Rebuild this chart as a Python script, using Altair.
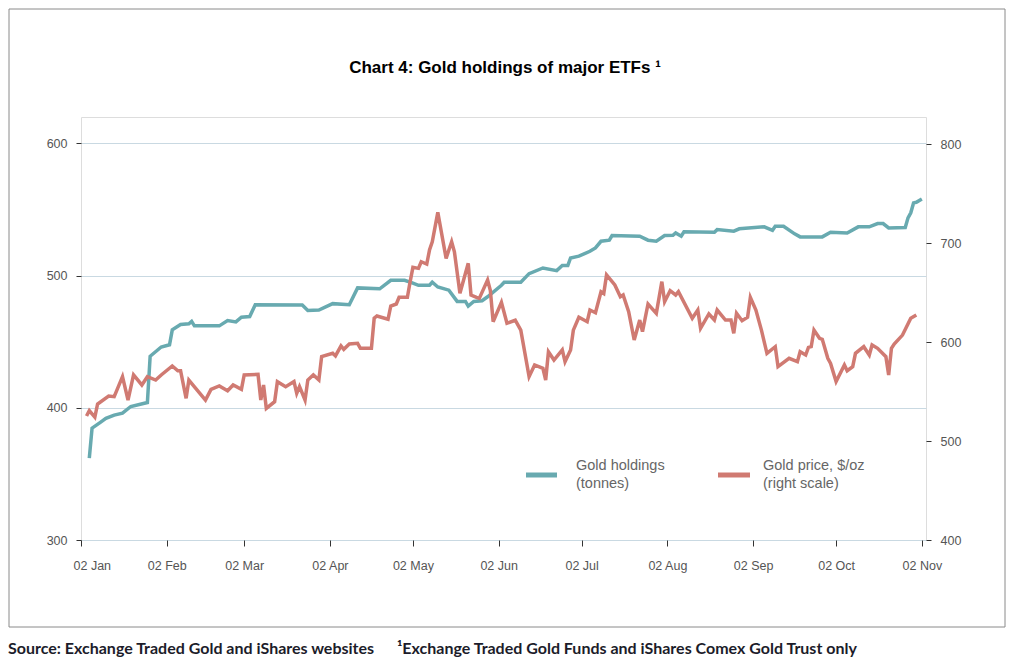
import altair as alt
import pandas as pd

# ---- Data (2006) ----
hold_dates = ["01-05", "01-06", "01-09", "01-11", "01-14", "01-17", "01-20", "01-26", "01-27", "01-31",
              "02-03", "02-04", "02-07", "02-10", "02-11", "02-12", "02-21", "02-24", "02-27", "03-01",
              "03-04", "03-06", "03-23", "03-25", "03-29", "04-03", "04-09", "04-12", "04-20", "04-24",
              "04-29", "05-02", "05-04", "05-08", "05-09", "05-11", "05-15", "05-18", "05-21", "05-22",
              "05-24", "05-27", "05-29", "06-03", "06-04", "06-10", "06-13", "06-18", "06-23", "06-25",
              "06-27", "06-28", "07-01", "07-05", "07-07", "07-09", "07-12", "07-13", "07-23", "07-26",
              "07-29", "08-01", "08-04", "08-05", "08-07", "08-08", "08-19", "08-20", "08-26", "08-28",
              "09-06", "09-09", "09-10", "09-13", "09-17", "09-19", "09-27", "09-30", "10-06", "10-10",
              "10-14", "10-17", "10-19", "10-21", "10-27", "10-28", "10-29", "10-30", "10-31", "11-02"]
hold_vals = [362, 384.6, 389, 392, 394.5, 396, 401, 404, 439, 446,
             447.7, 459, 463, 463.6, 465.4, 462, 462, 466, 465, 468.6,
             469, 478, 477.8, 473.7, 474, 478.8, 478, 490.7, 490, 496.5,
             496.5, 494.4, 492.7, 492.7, 495, 491.4, 489, 480.5, 480.5, 477,
             480.5, 481, 484, 492.7, 495, 495, 501.5, 505.8, 503.8, 507.6,
             507.6, 513.4, 514.7, 518.4, 521, 526, 526.8, 530.3, 529.8, 526.8,
             526, 530.3, 530.5, 532.3, 529.8, 533.1, 532.8, 534.8, 533.6, 535.4,
             536.9, 534.3, 537.4, 537.4, 531.6, 529.3, 529.3, 532.8, 532.3, 536.9,
             536.9, 539.4, 539.4, 536.1, 536.4, 543.7, 547.5, 555, 555.5, 558]

price_dates = ["01-04", "01-05", "01-07", "01-08", "01-12", "01-14", "01-17", "01-19", "01-21", "01-24",
               "01-26", "01-29", "01-31", "02-04", "02-06", "02-07", "02-09", "02-10", "02-13", "02-16",
               "02-18", "02-21", "02-24", "02-26", "03-01", "03-02", "03-07", "03-08", "03-09", "03-10",
               "03-13", "03-14", "03-17", "03-20", "03-21", "03-22", "03-24", "03-25", "03-27", "03-29",
               "03-30", "04-03", "04-04", "04-06", "04-07", "04-09", "04-12", "04-13", "04-17", "04-18",
               "04-19", "04-23", "04-24", "04-26", "04-27", "04-30", "05-01", "05-02", "05-04", "05-05",
               "05-07", "05-08", "05-09", "05-11", "05-14", "05-16", "05-17", "05-19", "05-22", "05-23",
               "05-25", "05-26", "05-29", "05-30", "05-31", "06-03", "06-05", "06-08", "06-10", "06-13",
               "06-15", "06-18", "06-19", "06-20", "06-22", "06-25", "06-26", "06-28", "06-29", "07-01",
               "07-04", "07-05", "07-07", "07-09", "07-10", "07-11", "07-14", "07-16", "07-17", "07-19",
               "07-21", "07-23", "07-24", "07-26", "07-29", "07-31", "08-01", "08-03", "08-05", "08-06",
               "08-11", "08-13", "08-14", "08-17", "08-19", "08-20", "08-23", "08-25", "08-26", "08-27",
               "08-29", "08-31", "09-01", "09-03", "09-05", "09-07", "09-10", "09-11", "09-15", "09-18",
               "09-19", "09-21", "09-22", "09-23", "09-24", "09-26", "09-27", "09-29", "09-30", "10-02",
               "10-05", "10-06", "10-08", "10-09", "10-12", "10-14", "10-15", "10-17", "10-20", "10-21",
               "10-22", "10-23", "10-26", "10-29", "10-31"]
price_vals = [525.3, 530.6, 524, 537.4, 545.5, 544.8, 565, 541.4, 566.7, 556.6,
              565, 561.6, 566.7, 575.8, 571, 571, 543.1, 561.6, 551.5, 541.4,
              552.2, 555.6, 550.8, 556.6, 552.2, 566.7, 567.3, 541.4, 556.6, 533,
              539.7, 559.9, 554.9, 560, 548.2, 554.9, 541.4, 561.6, 566.7, 561.6,
              585.2, 588.6, 585.9, 596, 592.6, 598, 598.7, 593.6, 593.6, 624,
              626.3, 623, 636.4, 638.4, 645.1, 645.1, 661, 675.4, 674.4, 681.1,
              678.8, 692.9, 701.3, 731, 684.5, 701.3, 691.2, 649.2, 679.5, 647.5,
              645.1, 644.1, 662.6, 652, 620.5, 640, 618.9, 622, 612, 565,
              576.8, 573.4, 561.6, 590.2, 581.8, 592, 580.1, 592, 612, 625,
              620.5, 632.3, 629.6, 650.8, 649, 667.7, 657.6, 645.8, 647.5, 630.6,
              602, 622.2, 610.4, 638.4, 629, 661, 640.7, 651.8, 647.5, 650.8,
              624, 632.3, 613.8, 628.3, 622.2, 632.3, 622.2, 622.2, 608.8, 629,
              621.5, 625, 645, 632.3, 612, 588.6, 595.3, 575.1, 583.5, 580.1,
              590.2, 586.9, 594.6, 595.3, 612, 603.7, 602.7, 583.5, 578.4, 560,
              576.8, 571, 575.1, 588.6, 595.3, 586.9, 597, 593.6, 585.2, 566.7,
              593.6, 598, 607, 624, 627.3]

series_names = ["Gold holdings", "Gold price, $/oz"]
legend_labels = ["Gold holdings\n(tonnes)", "Gold price, $/oz\n(right scale)"]
left_ticks = [300, 400, 500, 600]
right_ticks = [400, 500, 600, 700, 800]
month_ticks = list(range(1, 12))

title_text = "Chart 4: Gold holdings of major ETFs \u00b9"
source_text = "Source: Exchange Traded Gold and iShares websites"
note_text = "\u00b9Exchange Traded Gold Funds and iShares Comex Gold Trust only"

# ---- Styles ----
TEAL = "#68aab0"
RED = "#d07a72"
BROWN = "#9c6a55"
GRID = "#c9d9e2"
LABEL = "#555555"
FONT = "Liberation Sans"

hold = pd.DataFrame({"date": ["2006-" + d + "T00:00:00" for d in hold_dates],
                     "value": hold_vals, "series": series_names[0]})
price = pd.DataFrame({"date": ["2006-" + d + "T00:00:00" for d in price_dates],
                      "value": price_vals, "series": series_names[1]})
one = pd.DataFrame({"t": [""]})

color_scale = alt.Scale(domain=series_names, range=[TEAL, RED])
color_enc = alt.Color("series:N", scale=color_scale, legend=None)

x_enc = alt.X(
    "date:T",
    scale=alt.Scale(domain=[alt.DateTime(year=2006, month=1, date=2),
                            alt.DateTime(year=2006, month=11, date=3, hours=12)]),
    axis=alt.Axis(values=[alt.DateTime(year=2006, month=m, date=2) for m in month_ticks],
                  format="%d %b", title=None, grid=False, domain=False,
                  tickSize=6, tickColor="#333333", labelPadding=13,
                  labelFlushOffset=8,
                  labelFontSize=12.5, labelColor=LABEL, labelFont=FONT),
)

frame = alt.Chart(one).mark_rect(fill="transparent", stroke="#8a8a8a", strokeWidth=1).encode(
    x=alt.value(-72), x2=alt.value(924), y=alt.value(-108), y2=alt.value(510)
)

left = alt.Chart(hold).mark_line(strokeWidth=3.5, clip=True).encode(
    x=x_enc,
    y=alt.Y("value:Q",
            scale=alt.Scale(domain=[300, 620], nice=False, zero=False),
            axis=alt.Axis(values=left_ticks, title=None, orient="left", grid=True,
                          gridColor=GRID, gridWidth=1, domain=False, tickSize=5,
                          tickColor="#333333", labelPadding=9, labelFontSize=12.5,
                          labelColor=LABEL, labelFont=FONT)),
    color=color_enc,
)

right = alt.Chart(price).mark_line(strokeWidth=3.5, clip=True).encode(
    x=x_enc,
    y=alt.Y("value:Q",
            scale=alt.Scale(domain=[400, 827.3], nice=False, zero=False),
            axis=alt.Axis(values=right_ticks, title=None, orient="right", grid=False,
                          domain=False, tickSize=5, tickColor="#333333", labelPadding=9,
                          labelFontSize=12.5, labelColor=LABEL, labelFont=FONT)),
    color=color_enc,
)

# legend (inside the plot, lower right)
leg_teal = alt.Chart(one).mark_rule(strokeWidth=5, color=TEAL).encode(
    x=alt.value(445), x2=alt.value(476), y=alt.value(358))
leg_red = alt.Chart(one).mark_rule(strokeWidth=5, color=RED).encode(
    x=alt.value(637), x2=alt.value(669), y=alt.value(358))
leg_txt1 = alt.Chart(pd.DataFrame({"t": [legend_labels[0]]})).mark_text(
    font=FONT, fontSize=14.5, color="#666666", align="left", baseline="top",
    lineBreak="\n", lineHeight=17.5
).encode(text="t:N", x=alt.value(495), y=alt.value(342))
leg_txt2 = alt.Chart(pd.DataFrame({"t": [legend_labels[1]]})).mark_text(
    font=FONT, fontSize=14.5, color="#666666", align="left", baseline="top",
    lineBreak="\n", lineHeight=17.5
).encode(text="t:N", x=alt.value(682), y=alt.value(342))

title = alt.Chart(pd.DataFrame({"t": [title_text]})).mark_text(
    font=FONT, fontSize=17, fontWeight="bold", color="#000000", align="center", baseline="middle"
).encode(text="t:N", x=alt.value(424), y=alt.value(-49))

source = alt.Chart(pd.DataFrame({"t": [source_text]})).mark_text(
    font="Lato", fontSize=16, fontWeight="bold", color="#1c1c2a", align="left", baseline="middle"
).encode(text="t:N", x=alt.value(-73), y=alt.value(532))

note = alt.Chart(pd.DataFrame({"t": [note_text]})).mark_text(
    font="Lato", fontSize=16, fontWeight="bold", color="#1c1c2a", align="left", baseline="middle"
).encode(text="t:N", x=alt.value(316), y=alt.value(532))

chart = alt.layer(frame, left, right, leg_teal, leg_red, leg_txt1, leg_txt2,
                  title, source, note).resolve_scale(
    y="independent"
).properties(
    width=845, height=423,
    autosize=alt.AutoSizeParams(type="none"),
    padding={"left": 73, "top": 109, "right": 88, "bottom": 117},
).configure_view(
    stroke=BROWN, strokeWidth=1.5
).configure(background="white")

chart.save("out.html", embed_options={"renderer": "svg", "actions": False})
